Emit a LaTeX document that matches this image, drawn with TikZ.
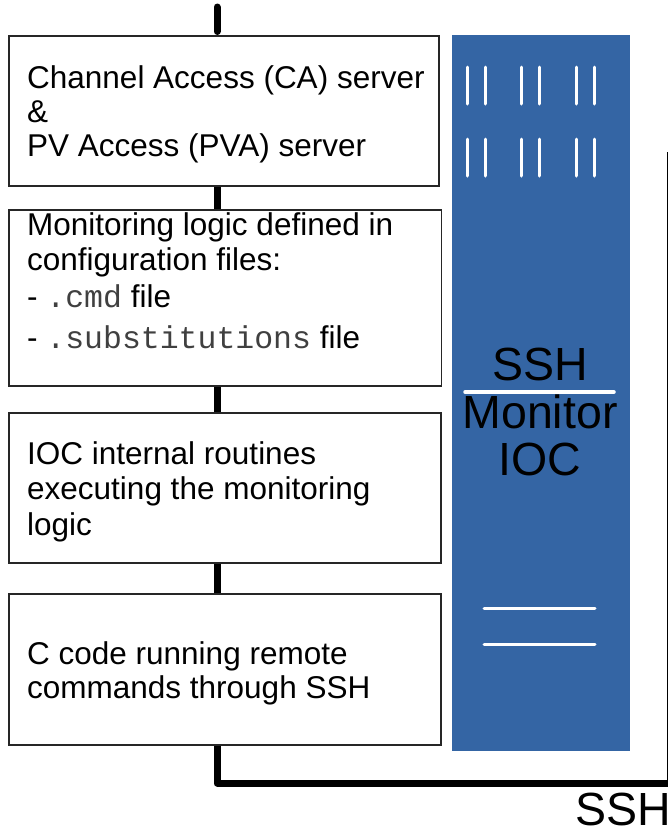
\documentclass[tikz,border=0pt]{standalone}
\usepackage{fontspec}
\setmainfont{Liberation Sans}
\setmonofont{Liberation Mono}
\usetikzlibrary{positioning}
\definecolor{iocblue}{RGB}{52,101,164}
\begin{document}
\begin{tikzpicture}[x=1pt,y=-1pt,
        box/.style={draw=black!85,line width=1.8pt,fill=white,inner sep=0pt,anchor=north west},
        txt/.style={inner sep=0pt,align=left,font=\fontsize{31.5pt}{35pt}\selectfont},
        bigtxt/.style={inner sep=0pt,align=center,font=\fontsize{46.5pt}{47.5pt}\selectfont},
        wire/.style={line width=7pt,line join=round},
        bar/.style={white,line width=3pt,line cap=round}]
        \useasboundingbox (0,0) rectangle (668,831);
        % Bloque del IOC
        \node[box,draw=none,fill=iocblue,minimum width=178pt,minimum height=716pt] (ioc) at (451,34) {};
        \foreach \bx in {467,485,521,539,576,594}
            \foreach \by in {67,139}
                \draw[bar] (\bx,\by) -- ++(0,37);
        \draw[bar,line width=3.5pt] (465,392) -- (614,392);
        \draw[bar] (484,608) -- (595,608);
        \draw[bar] (484,644) -- (595,644);
        \node[bigtxt,anchor=north] (iocTxt) at (540,348) {SSH\\Monitor\\IOC};
        % Cajas
        \node[box,minimum width=430pt,minimum height=150pt] (ca) at (8,35) {};
        \node[box,minimum width=432.5pt,minimum height=176pt] (cfg) at (8,209) {};
        \node[box,minimum width=432pt,minimum height=150pt] (rout) at (8,412) {};
        \node[box,minimum width=432pt,minimum height=151pt] (ccode) at (8,593) {};
        % Textos
        \node[txt,font=\fontsize{31.5pt}{34pt}\selectfont,below right=30pt and 19pt of ca.north west] (caTxt)
            {Channel Access (CA) server\\\&\\PV Access (PVA) server};
        \node[txt,below right=3pt and 19pt of cfg.north west] (cfgTxt)
            {Monitoring logic defined in\\configuration files:\\[2pt]
             - {\ttfamily\color{black!75}.cmd} file\\[6pt]- {\ttfamily\color{black!75}.substitutions} file};
        \node[txt,font=\fontsize{31.5pt}{35.5pt}\selectfont,below right=29pt and 19pt of rout.north west] (routTxt)
            {IOC internal routines\\executing the monitoring\\logic};
        \node[txt,font=\fontsize{31.5pt}{34.5pt}\selectfont,below right=48pt and 19pt of ccode.north west] (ccodeTxt)
            {C code running remote\\commands through SSH};
        % Conexiones
        \coordinate (top) at (217,7);
        \coordinate (corner) at (670,783);
        \coordinate (sshEnd) at (670,152);
        \draw[wire,line cap=round,shorten >=3.5pt] (top) -- (top |- ca.north);
        \draw[wire] (ca.south -| top) -- (cfg.north -| top);
        \draw[wire] (cfg.south -| top) -- (rout.north -| top);
        \draw[wire] (rout.south -| top) -- (ccode.north -| top);
        \draw[wire] (ccode.south -| top) -- (top |- corner) -- (corner) -- (sshEnd);
        \node[bigtxt,anchor=north west] (sshLbl) at (575,793) {SSH};
    \end{tikzpicture}
\end{document}
